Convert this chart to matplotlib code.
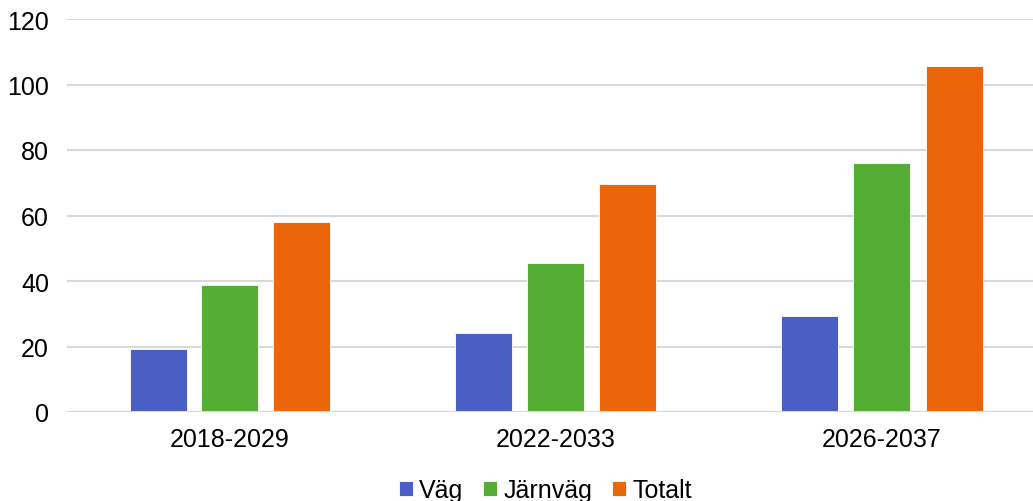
import numpy as np
import matplotlib
matplotlib.use("Agg")
import matplotlib.pyplot as plt

plt.rcParams['font.family'] = ['Liberation Sans', 'DejaVu Sans']

periods = ['2018-2029', '2022-2033', '2026-2037']
series = ['Väg', 'Järnväg', 'Totalt']
vag = [19.2, 24.2, 29.2]
jarnvag = [38.8, 45.4, 76.1]
totalt = [58.1, 69.7, 105.6]
colors = ['#4a5ec4', '#55ae34', '#eb6608']

W, H = 1033, 502
left = 67
fig = plt.figure(figsize=(W / 100, H / 100), dpi=100)
ax = fig.add_axes([left / W, (H - 413) / H, (W - left) / W, 393 / H])

x = np.arange(len(periods))
pitch = 72 / 326
width = 57 / 326
for i, (vals, name) in enumerate(zip([vag, jarnvag, totalt], series)):
    ax.bar(x + (i - 1) * pitch, vals, width, color=colors[i], label=name,
           edgecolor='#ffffff', linewidth=0.6, zorder=3)

ax.set_ylim(0, 120)
ax.set_xlim(-0.5, -0.5 + (W - left) / 326)
ax.set_yticks(range(0, 121, 20))
ax.yaxis.grid(True, color='#d9d9d9', linewidth=1.5, zorder=0)
ax.set_xticks(x)
ax.set_xticklabels(periods)
for s in ax.spines.values():
    s.set_visible(False)
ax.tick_params(axis='both', length=0, labelsize=18, colors='black')
ax.tick_params(axis='y', pad=13)
ax.tick_params(axis='x', pad=11)
ax.axhline(0, color='#d9d9d9', linewidth=1.5, zorder=4)

fig.legend(loc='center', bbox_to_anchor=(0.528, 0.022), ncol=3, frameon=False,
           fontsize=18, handlelength=0.55, handleheight=0.55,
           handletextpad=0.25, columnspacing=0.8)

fig.savefig('out.png', dpi=100)
